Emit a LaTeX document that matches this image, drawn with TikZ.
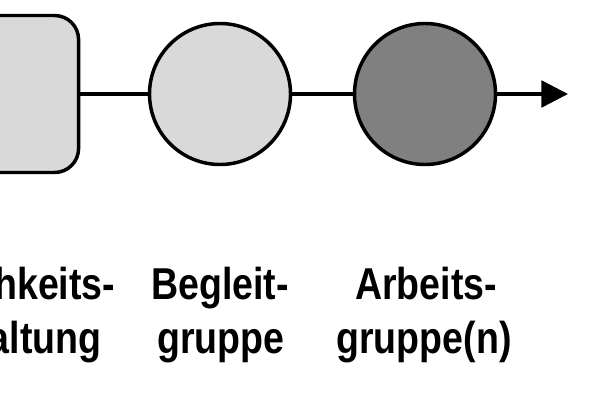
\documentclass[tikz,border=0pt]{standalone}
\usepackage{fontspec}
\usetikzlibrary{arrows.meta}
\newfontfamily\labelfont{Liberation Sans}[FakeStretch=0.84]
\definecolor{fieldgray}{HTML}{D9D9D9}
\definecolor{workgray}{HTML}{808080}
\tikzset{
  stage/.style={draw, circle, inner sep=0pt, minimum size=105.75pt},
  infobox/.style={draw, rounded corners=18pt, inner sep=0pt,
    minimum width=134pt, minimum height=117.75pt, fill=fieldgray},
  lbl/.style={inner sep=0pt, font=\labelfont\bfseries\fontsize{33.5}{40}\selectfont}
}
\begin{document}
\begin{tikzpicture}[x=0.75pt, y=-0.75pt, line width=2.6pt]
    \useasboundingbox (0,0) rectangle (600,400);
    % shapes
    \node[infobox] (info) at (-10.75,94) {};
    \node[stage, fill=fieldgray] (begl) at (220,94) {};
    \node[stage, fill=workgray] (arb) at (425,94) {};
    \coordinate (end) at (568,94);
    % connectors
    \draw (info) -- (begl);
    \draw (begl) -- (arb);
    \draw[-{Triangle[length=20pt, width=20pt]}] (arb) -- (end);
    % labels
    \node[lbl, anchor=base east] (info-a) at (117,299) {hkeits-};
    \node[lbl, anchor=base east] (info-b) at (103,353) {altung};
    \node[lbl, anchor=base] (begl-a) at (220,299) {Begleit-};
    \node[lbl, anchor=base] (begl-b) at (221,353) {gruppe};
    \node[lbl, anchor=base] (arb-a) at (426,299) {Arbeits-};
    \node[lbl, anchor=base] (arb-b) at (424,353) {gruppe(n)};
\end{tikzpicture}
\end{document}
